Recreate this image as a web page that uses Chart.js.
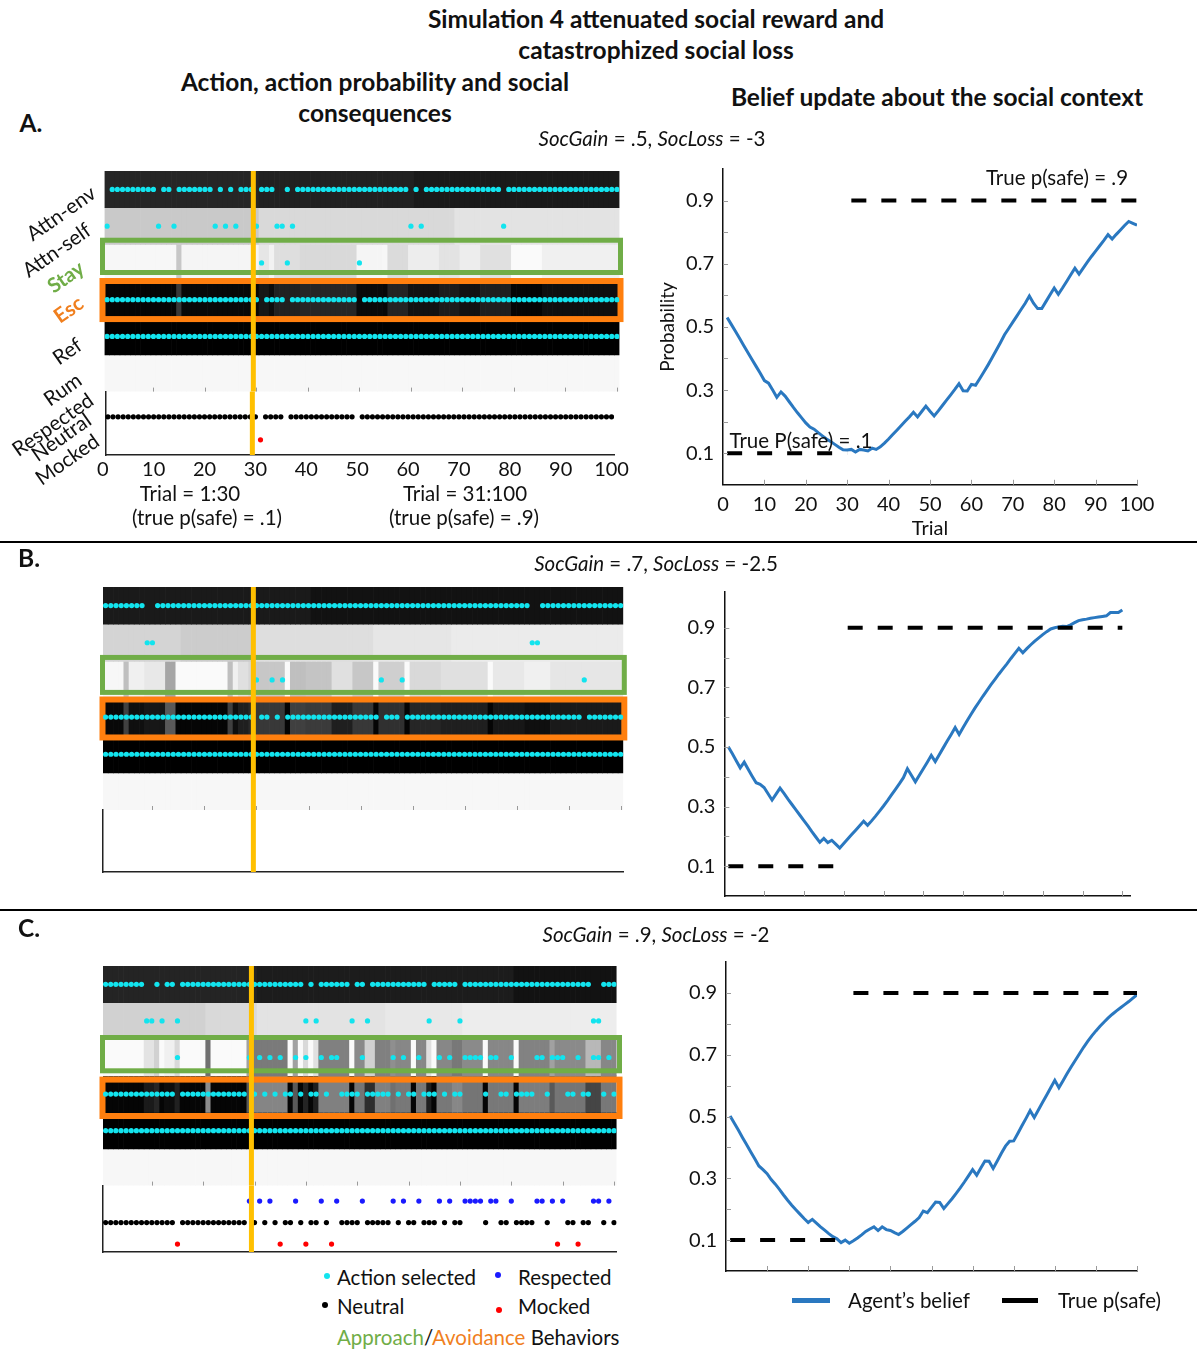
<!DOCTYPE html>
<html>
<head>
<meta charset="utf-8">
<title>Simulation 4 attenuated social reward and catastrophized social loss</title>
<script src="https://cdn.jsdelivr.net/npm/chart.js@4.4.1/dist/chart.umd.min.js"></script>
<style>
  body { margin: 0; background: #fff; }
  #page { position: relative; width: 1197px; height: 1349px; overflow: hidden; font-family: Lato, sans-serif; color: #111; }
  #charts canvas { position: absolute; }
  .t { position: absolute; white-space: nowrap; line-height: 1; z-index: 2; }
  .c { transform: translate(-50%, -50%); }
  .l { transform: translateY(-50%); }
  .h { font-weight: bold; font-size: 24.5px; }
  .s { font-size: 20.5px; }
  .n { font-size: 20.5px; }
  .row { position: absolute; font-size: 20.5px; line-height: 20px; white-space: nowrap; transform-origin: 100% 50%; transform: rotate(-35deg); z-index: 2; }
  .dot { position: absolute; width: 6px; height: 6px; border-radius: 50%; transform: translate(-50%, -50%); }
  .sw { position: absolute; height: 5px; }
  .rule { position: absolute; left: 0; width: 1197px; height: 2px; background: #000; }
</style>
</head>
<body>
<div id="page">
  <div id="charts"></div>

  <div class="t c h" style="left:656px;top:19px">Simulation 4 attenuated social reward and</div>
  <div class="t c h" style="left:656px;top:50px">catastrophized social loss</div>
  <div class="t c h" style="left:375px;top:82px">Action, action probability and social</div>
  <div class="t c h" style="left:375px;top:113px">consequences</div>
  <div class="t c h" style="left:937px;top:97px">Belief update about the social context</div>

  <div class="t c h" style="left:31px;top:123px">A.</div>
  <div class="t c s" style="left:652px;top:138px"><i>SocGain</i> = .5, <i>SocLoss</i> = -3</div>
  <div class="t c h" style="left:29px;top:558px">B.</div>
  <div class="t c s" style="left:656px;top:563px"><i>SocGain</i> = .7, <i>SocLoss</i> = -2.5</div>
  <div class="t c h" style="left:29px;top:928px">C.</div>
  <div class="t c s" style="left:656px;top:934px"><i>SocGain</i> = .9, <i>SocLoss</i> = -2</div>

  <!-- row labels, panel A -->
  <div class="row" style="right:1104px;top:180px">Attn-env</div>
  <div class="row" style="right:1109px;top:217px">Attn-self</div>
  <div class="row" style="right:1116px;top:255px;color:#70ad47;font-weight:bold">Stay</div>
  <div class="row" style="right:1116px;top:290px;color:#f07f1e;font-weight:bold">Esc</div>
  <div class="row" style="right:1118px;top:332px">Ref</div>
  <div class="row" style="right:1118px;top:367px">Rum</div>
  <div class="row" style="right:1106px;top:387px">Respected</div>
  <div class="row" style="right:1109px;top:407px">Neutral</div>
  <div class="row" style="right:1101px;top:428px">Mocked</div>

  <div class="t c n" style="left:190px;top:493px">Trial = 1:30</div>
  <div class="t c n" style="left:207px;top:517px">(true p(safe) = .1)</div>
  <div class="t c n" style="left:465px;top:493px">Trial = 31:100</div>
  <div class="t c n" style="left:464px;top:517px">(true p(safe) = .9)</div>

  <div class="t c n" style="left:1057px;top:177px">True p(safe) = .9</div>
  <div class="t c n" style="left:801px;top:440px">True P(safe) = .1</div>

  <div class="rule" style="top:541px"></div>
  <div class="rule" style="top:909px"></div>

  <!-- legends -->
  <span class="dot" style="left:327px;top:1276px;background:#12e4ee"></span>
  <div class="t l n" style="left:337px;top:1277px">Action selected</div>
  <span class="dot" style="left:498px;top:1275px;background:#1a1aff"></span>
  <div class="t l n" style="left:518px;top:1277px">Respected</div>
  <span class="dot" style="left:325px;top:1305px;background:#000"></span>
  <div class="t l n" style="left:337px;top:1306px">Neutral</div>
  <span class="dot" style="left:499px;top:1310px;background:#ff0000"></span>
  <div class="t l n" style="left:518px;top:1306px">Mocked</div>
  <div class="t l n" style="left:337px;top:1337px"><span style="color:#70ad47">Approach</span>/<span style="color:#f07f1e">Avoidance</span> Behaviors</div>

  <span class="sw" style="left:792px;top:1298px;width:38px;background:#2a78c0"></span>
  <div class="t l n" style="left:848px;top:1300px">Agent’s belief</div>
  <span class="sw" style="left:1002px;top:1298px;width:36px;background:#000"></span>
  <div class="t l n" style="left:1058px;top:1300px">True p(safe)</div>
</div>

<script>
// ---- data ----
// gray level of each heat-map row as [level (0 black .. 1 white), run length in trials]
const grayA_env  = [[0.15,30],[0.13,30],[0.10,40]];
const grayA_self = [[0.79,30],[0.85,38],[0.89,32]];
const grayA_stay = [[0.97,14],[0.78,1],[0.96,15],[0.90,2],[0.95,1],[0.87,5],[0.85,11],[0.96,5],[0.97,1],[0.86,4],[0.93,6],[0.89,4],[0.93,4],[0.88,6],[0.98,6],[0.94,15]];
const grayA_esc  = [[0.02,14],[0.22,1],[0.03,15],[0.09,2],[0.05,1],[0.13,5],[0.15,11],[0.04,5],[0.03,1],[0.14,4],[0.07,6],[0.11,4],[0.07,4],[0.12,6],[0.02,6],[0.06,15]];
const grayA_ref  = [[0.0,100]];
const grayA_rum  = [[0.97,100]];

const grayB_env  = [[0.10,40],[0.07,60]];
const grayB_self = [[0.83,15],[0.80,14],[0.87,23],[0.90,15],[0.92,33]];
const grayB_stay = [[0.97,4],[0.75,1],[0.94,3],[0.91,4],[0.65,2],[0.98,10],[0.75,1],[0.94,1],[0.88,2],[0.84,1],[0.78,6],[0.98,1],[0.75,3],[0.77,5],[0.88,4],[0.78,4],[0.98,1],[0.81,5],[0.98,1],[0.85,6],[0.88,9],[0.98,1],[0.91,6],[0.94,5],[0.90,14]];
const grayB_esc  = [[0.03,4],[0.25,1],[0.06,3],[0.09,4],[0.35,2],[0.02,10],[0.25,1],[0.06,1],[0.12,2],[0.16,1],[0.22,6],[0.02,1],[0.25,3],[0.23,5],[0.12,4],[0.22,4],[0.02,1],[0.19,5],[0.02,1],[0.15,6],[0.12,9],[0.02,1],[0.09,6],[0.06,5],[0.10,14]];
const grayB_ref  = [[0.0,100]];
const grayB_rum  = [[0.97,100]];

const grayC_env  = [[0.14,30],[0.11,50],[0.07,20]];
const grayC_self = [[0.82,20],[0.85,10],[0.89,25],[0.91,15],[0.93,30]];
const grayC_stay = [[0.98,8],[0.89,2],[0.82,1],[0.98,1],[0.94,2],[0.85,1],[0.98,5],[0.44,1],[0.98,7],[0.63,1],[0.48,7],[0.98,1],[0.63,1],[0.98,1],[0.85,1],[0.98,1],[0.88,1],[0.50,6],[0.98,1],[0.54,2],[0.82,2],[0.50,3],[0.56,1],[0.53,3],[0.98,1],[0.53,2],[0.88,1],[0.98,1],[0.53,3],[0.47,2],[0.54,4],[0.98,1],[0.53,5],[0.98,1],[0.51,6],[0.63,1],[0.54,6],[0.72,3],[0.53,3]];
const grayC_esc  = [[0.02,8],[0.10,2],[0.15,1],[0.02,1],[0.05,2],[0.13,1],[0.02,5],[0.55,1],[0.02,7],[0.35,1],[0.52,7],[0.02,1],[0.35,1],[0.02,1],[0.14,1],[0.02,1],[0.12,1],[0.50,6],[0.02,1],[0.46,2],[0.18,2],[0.50,3],[0.44,1],[0.47,3],[0.02,1],[0.47,2],[0.12,1],[0.02,1],[0.47,3],[0.53,2],[0.46,4],[0.02,1],[0.47,5],[0.02,1],[0.49,6],[0.35,1],[0.46,6],[0.27,3],[0.47,3]];
const grayC_ref  = [[0.0,100]];
const grayC_rum  = [[0.97,100]];

// trials where the less frequent action of each pair was picked
// (the other action of the pair was picked on every remaining trial)
const selfA = [1,11,14,22,24,26,30,34,35,37,60,62,78];
const stayA = [31,36,50];
const rumA = [];
const selfB = [9,10,83,84];
const stayB = [30,33,35,54,58,93];
const rumB = [];
const selfC = [9,10,12,15,40,42,49,52,64,70,96,97];
const stayC = [15,29,31,33,35,38,40,43,45,46,51,57,59,62,66,68,71,72,73,74,76,77,80,85,86,88,89,90,93,96,97,99];
const rumC = [];

// social consequences
const respectedA = [];
const mockedA = [31];
const noNeutralA = [31,36,50];
const respectedB = [];
const mockedB = [];
const respectedC = [29,31,33,38,43,46,51,57,59,62,66,68,71,72,73,74,76,77,80,85,86,88,90,96,97,99];
const mockedC = [15,35,40,45,89,93];
const noNeutralC = stayC;

// agent's belief p(safe), trials 1..100
const beliefA = [
  .530,.508,.486,.464,.441,.419,.397,.375,.353,.330,
  .322,.300,.277,.294,.281,.263,.245,.228,.212,.196,
  .183,.176,.165,.155,.145,.137,.128,.119,.111,.110,
  .112,.104,.112,.110,.107,.116,.112,.120,.132,.145,
  .159,.173,.187,.201,.215,.230,.215,.232,.249,.233,
  .218,.234,.251,.268,.285,.302,.320,.298,.297,.318,
  .315,.336,.357,.379,.402,.426,.450,.475,.495,.515,
  .535,.555,.575,.598,.575,.558,.558,.580,.602,.623,
  .603,.623,.644,.665,.686,.667,.686,.705,.723,.740,
  .757,.774,.792,.778,.793,.807,.821,.834,.828,.822];
const beliefB = [
  .501,.478,.454,.430,.449,.425,.402,.380,.375,.364,
  .343,.322,.342,.362,.344,.325,.307,.289,.271,.253,
  .235,.216,.198,.180,.193,.179,.187,.174,.161,.176,
  .191,.206,.221,.236,.251,.237,.252,.268,.285,.302,
  .320,.339,.358,.377,.397,.427,.405,.383,.405,.427,
  .449,.472,.451,.474,.497,.520,.542,.565,.542,.565,
  .588,.610,.631,.651,.671,.690,.709,.727,.745,.762,
  .779,.797,.814,.831,.816,.830,.843,.855,.866,.877,
  .887,.896,.900,.903,.905,.904,.910,.917,.924,.927,
  .929,.932,.934,.936,.938,.940,.951,.951,.951,.960];
const beliefC = [
  .502,.479,.456,.432,.409,.386,.363,.340,.328,.315,
  .296,.281,.264,.246,.229,.213,.198,.184,.170,.157,
  .167,.155,.143,.132,.121,.111,.104,.092,.100,.090,
  .098,.107,.117,.128,.136,.143,.131,.143,.134,.131,
  .124,.118,.128,.139,.150,.161,.173,.194,.189,.206,
  .223,.222,.202,.218,.234,.251,.269,.288,.308,.328,
  .310,.333,.356,.355,.332,.356,.381,.404,.420,.421,
  .445,.470,.494,.519,.497,.521,.545,.569,.593,.617,
  .593,.616,.639,.661,.682,.703,.724,.743,.761,.777,
  .792,.806,.819,.831,.842,.852,.862,.872,.883,.894];

// true p(safe): .1 on trials 1..30, .9 on trials 31..100
const pSafeLowTrials = [1, 30];
const pSafeHighTrials = [31, 100];
const pSafeLow = 0.1;
const pSafeHigh = 0.9;

const switchTrial = 29.4;     // where the yellow line sits on the trial axis
const trialTicks = [0,10,20,30,40,50,60,70,80,90,100];
const probTicks = [0.1,0.2,0.3,0.4,0.5,0.6,0.7,0.8,0.9];
const probLabels = [0.1,0.3,0.5,0.7,0.9];

// ---- helpers ----
const trials = Array.from({length: 100}, (_, i) => i + 1);
const cyan = '#12e4ee';
const green = '#70ad47';
const orange = '#ff7f0e';

Chart.defaults.font.family = 'Lato, sans-serif';
Chart.defaults.font.size = 20;
Chart.defaults.color = '#111';

function expand(runs) {
  const out = [];
  runs.forEach(([g, n]) => { for (let i = 0; i < n; i++) out.push(g); });
  return out;
}
function grayCss(g) {
  const v = Math.round(g * 255);
  return `rgb(${v},${v},${v})`;
}
function allBut(list) {
  return trials.filter(t => !list.includes(t));
}

function makeCanvas(left, top, w, h) {
  const c = document.createElement('canvas');
  c.width = w; c.height = h;
  c.style.left = left + 'px'; c.style.top = top + 'px';
  c.style.width = w + 'px'; c.style.height = h + 'px';
  document.getElementById('charts').appendChild(c);
  return c;
}

// canvas around a wanted plot area, returns canvas + paddings
function frame(area, l, t, r, b) {
  const left = Math.floor(area.x1 - l), top = Math.floor(area.y1 - t);
  const w = Math.ceil(area.x2 + r) - left, h = Math.ceil(area.y2 + b) - top;
  return {
    canvas: makeCanvas(left, top, w, h),
    pad: { left: area.x1 - left, top: area.y1 - top, right: left + w - area.x2, bottom: top + h - area.y2 }
  };
}

// boxes round the Stay / Esc rows and the yellow switch line
const overlay = {
  id: 'overlay',
  afterDatasetDraw(chart, args, o) {
    if (!o.boxes || args.index !== 0) return;
    const { ctx, scales: { x, y } } = chart;
    o.boxes.forEach(b => {
      const left = x.getPixelForValue(x.min) - b.dxL;
      const right = x.getPixelForValue(x.max) + b.dxR;
      const top = y.getPixelForValue(b.row - 0.5) + b.dTop;
      const bottom = y.getPixelForValue(b.row + 0.5) + b.dBot;
      ctx.save();
      ctx.strokeStyle = b.color;
      ctx.lineWidth = b.lw;
      ctx.strokeRect(left, top, right - left, bottom - top);
      ctx.restore();
    });
  },
  afterDatasetsDraw(chart, args, o) {
    if (o.switchAt == null) return;
    const { ctx, chartArea, scales: { x } } = chart;
    const px = x.getPixelForValue(o.switchAt);
    ctx.save();
    ctx.strokeStyle = '#ffc000';
    ctx.lineWidth = 5;
    ctx.beginPath();
    ctx.moveTo(px, chartArea.top);
    ctx.lineTo(px, chartArea.bottom);
    ctx.stroke();
    ctx.restore();
  }
};

// small inward tick marks like the matlab axes
const inTicks = {
  id: 'inTicks',
  afterDraw(chart, args, o) {
    const { ctx, chartArea: a, scales } = chart;
    ctx.save();
    ctx.strokeStyle = o.color || '#8c8c8c';
    ctx.lineWidth = 1;
    ctx.beginPath();
    (o.x || []).forEach(v => {
      const p = Math.round(scales.x.getPixelForValue(v)) + 0.5;
      ctx.moveTo(p, a.bottom); ctx.lineTo(p, a.bottom - o.len);
    });
    (o.y || []).forEach(v => {
      const p = Math.round(scales.y.getPixelForValue(v)) + 0.5;
      ctx.moveTo(a.left, p); ctx.lineTo(a.left + o.len, p);
    });
    ctx.stroke();
    ctx.restore();
  }
};

function heatPanel(area, grayRows, dotRows, boxes) {
  const { canvas, pad } = frame(area, 10, 10, 12, 4);
  const datasets = grayRows.map((runs, r) => ({
    type: 'bar',
    order: 3,
    data: trials.map(t => ({ x: t, y: [r + 0.5, r + 1.5] })),
    backgroundColor: expand(runs).map(grayCss),
    borderWidth: 0,
    barPercentage: 1,
    categoryPercentage: 1,
    grouped: false
  }));
  dotRows.forEach((list, r) => datasets.push({
    type: 'scatter',
    order: 2,
    data: list.map(t => ({ x: t, y: r + 1 })),
    pointRadius: 2.6,
    pointBackgroundColor: cyan,
    pointBorderWidth: 0
  }));
  new Chart(canvas, {
    type: 'bar',
    data: { datasets },
    options: {
      responsive: false, animation: false, events: [],
      layout: { padding: pad, autoPadding: false },
      scales: {
        x: { type: 'linear', display: false, min: 0.5, max: 100.5, offset: false },
        y: { type: 'linear', display: false, min: 0.5, max: 6.5, reverse: true }
      },
      plugins: {
        legend: { display: false }, tooltip: { enabled: false },
        overlay: { boxes, switchAt: switchTrial },
        inTicks: { x: trialTicks.slice(1), len: 4, color: '#9a9a9a' }
      }
    },
    plugins: [overlay, inTicks]
  });
}

function outcomePanel(area, respected, neutral, mocked, o) {
  const below = o.showLabels ? 30 : 6;
  const { canvas, pad } = frame(area, 10, 2, 12, below);
  const dots = (list, level, color) => ({
    type: 'scatter',
    data: list.map(t => ({ x: t, y: level })),
    pointRadius: 2.6,
    pointBackgroundColor: color,
    pointBorderWidth: 0
  });
  new Chart(canvas, {
    type: 'scatter',
    data: { datasets: [dots(respected, 1, '#1a1aff'), dots(neutral, 2, '#000'), dots(mocked, 3, '#ff0000')] },
    options: {
      responsive: false, animation: false, events: [],
      layout: { padding: { left: 0, top: pad.top, right: pad.right, bottom: 0 }, autoPadding: false },
      scales: {
        x: {
          type: 'linear', min: 0.5, max: 100.5, offset: false,
          grid: { display: false, drawTicks: false },
          border: { color: '#222', width: 1.5 },
          ticks: { display: o.showLabels, padding: 3, autoSkip: false, maxRotation: 0 },
          afterBuildTicks: s => { s.ticks = trialTicks.map(v => ({ value: v })); },
          afterFit: s => { s.height = pad.bottom; }
        },
        y: {
          type: 'linear', min: o.yMin, max: o.yMax, reverse: true,
          grid: { display: false, drawTicks: false },
          border: { color: '#222', width: 1.5 },
          ticks: { display: false },
          afterFit: s => { s.width = pad.left; }
        }
      },
      plugins: {
        legend: { display: false }, tooltip: { enabled: false },
        overlay: { switchAt: switchTrial }
      }
    },
    plugins: [overlay]
  });
}

function beliefPanel(area, belief, o) {
  const below = o.showX ? 62 : 12;
  const left = 640;
  const { canvas, pad } = frame(area, area.x1 - left, 12, 30, below);
  const truth = [
    ...pSafeLowTrials.map(t => ({ x: t, y: pSafeLow })),
    { x: (pSafeLowTrials[1] + pSafeHighTrials[0]) / 2, y: null },
    ...pSafeHighTrials.map(t => ({ x: t, y: pSafeHigh }))
  ];
  new Chart(canvas, {
    type: 'line',
    data: {
      datasets: [
        { label: 'True p(safe)', data: truth, borderColor: '#000', borderWidth: 4, borderDash: [15, 15],
          pointRadius: 0, spanGaps: false, order: 1 },
        { label: 'Agent’s belief', data: trials.map((t, i) => ({ x: t, y: belief[i] })),
          borderColor: '#2a78c0', borderWidth: 3, pointRadius: 0, tension: 0, order: 2 }
      ]
    },
    options: {
      responsive: false, animation: false, events: [],
      layout: { padding: { left: 0, top: pad.top, right: pad.right, bottom: 0 }, autoPadding: false },
      scales: {
        x: {
          type: 'linear', min: 0, max: o.xMax,
          grid: { display: false, drawTicks: false },
          border: { color: '#111', width: 1.5 },
          ticks: { display: o.showX, padding: 8, autoSkip: false, maxRotation: 0 },
          title: { display: o.showX, text: 'Trial', font: { size: 20 }, padding: { top: 0, bottom: 6 } },
          afterBuildTicks: s => { s.ticks = trialTicks.map(v => ({ value: v })); },
          afterFit: s => { s.height = pad.bottom; }
        },
        y: {
          type: 'linear', min: 0, max: o.yMax,
          grid: { display: false, drawTicks: false },
          border: { color: '#111', width: 1.5 },
          ticks: { padding: 9, autoSkip: false, callback: v => probLabels.includes(v) ? v.toFixed(1) : '' },
          title: { display: o.yTitle, text: 'Probability', font: { size: 19 }, padding: { top: 16, bottom: 0 } },
          afterBuildTicks: s => { s.ticks = probTicks.map(v => ({ value: v })); },
          afterFit: s => { s.width = pad.left; }
        }
      },
      plugins: {
        legend: { display: false }, tooltip: { enabled: false },
        inTicks: { x: trialTicks.slice(1), y: probTicks, len: 5, color: '#9a9a9a' }
      }
    },
    plugins: [inTicks]
  });
}

// ---- panel A ----
heatPanel({ x1: 104.5, x2: 619.5, y1: 171, y2: 391.6 },
  [grayA_env, grayA_self, grayA_stay, grayA_esc, grayA_ref, grayA_rum],
  [allBut(selfA), selfA, stayA, allBut(stayA), allBut(rumA), rumA],
  [{ row: 3, color: green, lw: 5, dTop: -4.3, dBot: -8.8, dxL: 2, dxR: 1 },
   { row: 4, color: orange, lw: 6, dTop: -0.3, dBot: 1, dxL: 2, dxR: 1 }]);
outcomePanel({ x1: 104.5, x2: 619.5, y1: 391.6, y2: 455 }, respectedA, allBut(noNeutralA), mockedA,
  { showLabels: true, yMin: 0.9, yMax: 3.66 });
beliefPanel({ x1: 723, x2: 1137, y1: 160.3, y2: 484.8 }, beliefA, { xMax: 100, yMax: 1, showX: true, yTitle: true });

// ---- panel B ----
heatPanel({ x1: 103, x2: 623.3, y1: 587, y2: 810 },
  [grayB_env, grayB_self, grayB_stay, grayB_esc, grayB_ref, grayB_rum],
  [allBut(selfB), selfB, stayB, allBut(stayB), allBut(rumB), rumB],
  [{ row: 3, color: green, lw: 5, dTop: -3.9, dBot: -6.1, dxL: 0.5, dxR: 1 },
   { row: 4, color: orange, lw: 6, dTop: 1, dBot: 1.8, dxL: 0.5, dxR: 1 }]);
outcomePanel({ x1: 103, x2: 623.3, y1: 810, y2: 872 }, respectedB, [], mockedB,
  { showLabels: false, yMin: 0.5, yMax: 3.5 });
beliefPanel({ x1: 724.3, x2: 1130.3, y1: 583.1, y2: 904.8 }, beliefB, { xMax: 102, yMax: 1.02, showX: false, yTitle: false });

// ---- panel C ----
heatPanel({ x1: 103, x2: 616.6, y1: 966, y2: 1185.6 },
  [grayC_env, grayC_self, grayC_stay, grayC_esc, grayC_ref, grayC_rum],
  [allBut(selfC), selfC, stayC, allBut(stayC), allBut(rumC), rumC],
  [{ row: 3, color: green, lw: 5, dTop: -1.7, dBot: -5, dxL: 0.5, dxR: 2.9 },
   { row: 4, color: orange, lw: 6, dTop: 3.8, dBot: 3.6, dxL: 0.5, dxR: 2.9 }]);
outcomePanel({ x1: 103, x2: 616.6, y1: 1185.6, y2: 1252 }, respectedC, allBut(noNeutralC), mockedC,
  { showLabels: false, yMin: 0.28, yMax: 3.37 });
beliefPanel({ x1: 726, x2: 1137, y1: 953.3, y2: 1279.3 }, beliefC, { xMax: 100, yMax: 1, showX: false, yTitle: false });
</script>
</body>
</html>
